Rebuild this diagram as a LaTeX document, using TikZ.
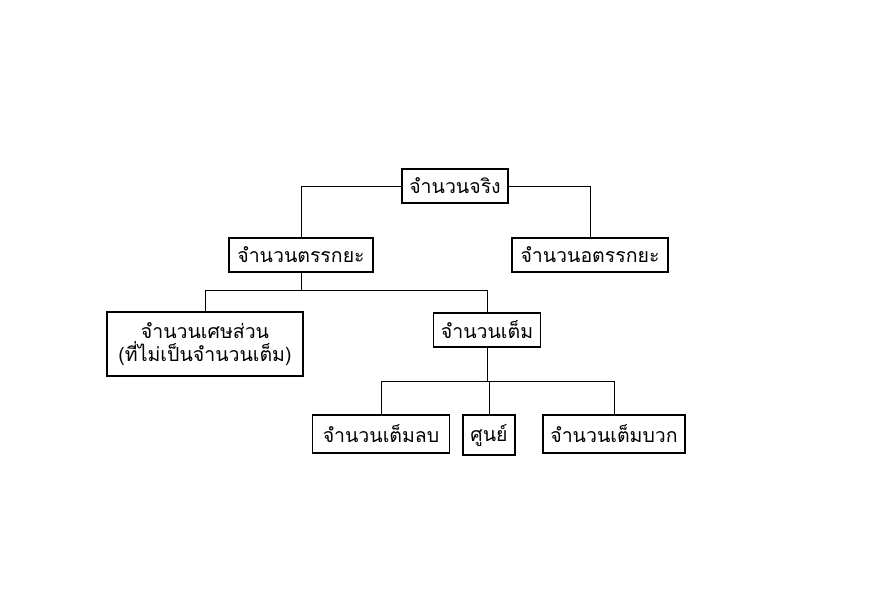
\documentclass[tikz,border=0pt]{standalone}
\usepackage{fontspec}
\newfontfamily\thaifont[Script=Thai]{Loma}

\begin{document}
\begin{tikzpicture}[x=1pt, y=1pt,
    box/.style={draw, line width=1.1pt, inner xsep=5pt, inner ysep=0pt,
                minimum height=34pt, font=\thaifont\fontsize{19.5}{23}\selectfont},
    link/.style={line width=0.9pt}]
    \useasboundingbox (0,0) rectangle (875,600);
    \node[box, minimum width=106pt] (real) at (455,414) {จำนวนจริง};
    \node[box, minimum width=144pt] (rat)  at (301,345) {จำนวนตรรกยะ};
    \node[box, minimum width=156pt] (irr)  at (590,345) {จำนวนอตรรกยะ};
    \node[box, align=center, minimum width=196pt, minimum height=64pt] (frac) at (205,256) {จำนวนเศษส่วน\\(ที่ไม่เป็นจำนวนเต็ม)};
    \node[box, minimum width=107pt] (int)  at (487,270) {จำนวนเต็ม};
    \node[box, minimum width=137pt, minimum height=38pt] (neg)  at (381,166) {จำนวนเต็มลบ};
    \node[box, minimum width=52pt, minimum height=40pt] (zero) at (489,165) {ศูนย์};
    \node[box, minimum width=142pt, minimum height=38pt] (pos)  at (614,166) {จำนวนเต็มบวก};
    \coordinate (j1) at (301,310);
    \coordinate (j2) at (487,219);
    \draw[link] (real.west) -| (rat.north);
    \draw[link] (real.east) -| (irr.north);
    \draw[link] (rat.south) -- (j1);
    \draw[link] (j1) -| (frac.north);
    \draw[link] (j1) -| (int.north);
    \draw[link] (int.south) -- (j2);
    \draw[link] (j2) -| (neg.north);
    \draw[link] (j2) -| (zero.north);
    \draw[link] (j2) -| (pos.north);
\end{tikzpicture}
\end{document}
